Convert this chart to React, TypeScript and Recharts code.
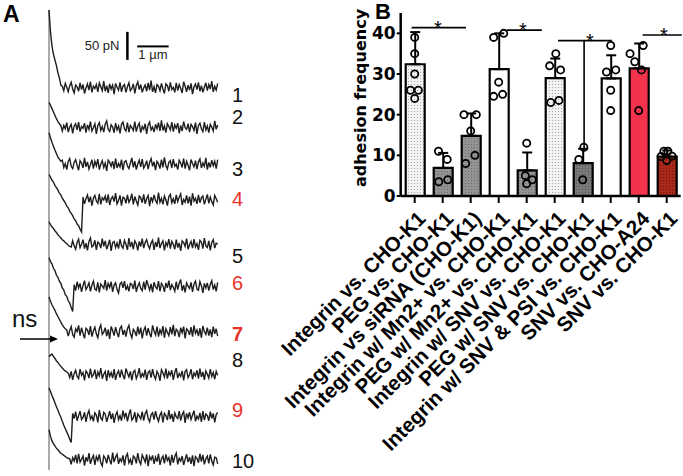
import React from 'react';
import {
  LineChart, Line, XAxis, YAxis, ReferenceLine, ReferenceDot,
  ComposedChart, Bar, Cell, ErrorBar, Scatter,
} from 'recharts';

// ---------- Panel A: retraction force traces ----------
// force in pN relative to each trace baseline, one sample every DX µm
const DX = 0.047;
const traceBaselines = [682, 611, 545, 482, 402, 327, 246, 170, 95, 18];
const trace1 = [139, 100, 75, 60, 50, 40, 27, 18, 5,
  3, -5, 8, 1, -7, 4, 10, -2, -9, 5, 2, -6, 9, -3, 6, -10, 0, 7, -4, 11, -8, 3, -1, 6, -7, 9, 2, -5, 12, -6,
  4, -9, 7, -2, 5, -11, 8, 1, -4, 10, -7, 3, 6, -8, 2, 9, -5, -1, 7, -10, 4, 11, -3, 6, -8, 0, 5, -6, 9, -4,
  13, -7, 2, -9, 6, 3, -5, 8, -2, -10, 7, 4, -6, 10, -3, 1, -8, 9, -5, 6, -1, -9, 11, 3, -7, 5, -4, 8, -11, 2,
  7, -3, 10, -6, 4, -8, 1, 9, -5, 6, -2, 12, -7, 3, -4, 8];
const trace2 = [45, 40, 34, 28, 22, 16, 11, 7, 4,
  -6, 4, -2, 9, -8, 1, 6, -10, 3, 7, -4, 10, -7, 2, -1, 8, -9, 5, -3, 11, -6, 0, 7, -11, 4, 9, -5, 2, -8, 6,
  12, -3, -7, 5, 1, -9, 8, -4, 3, -10, 6, 10, -2, -6, 9, -8, 4, 0, -5, 11, -7, 3, 8, -9, 2, -3, 7, -11, 5, 10,
  -4, 1, -8, 6, -2, 9, -6, 13, -5, 3, -9, 7, 2, -4, 10, -7, 5, -1, 8, -10, 4, -6, 11, 0, -3, 7, -8, 6, 2, -5,
  9, -11, 4, 8, -2, -7, 10, -4, 3, -9, 6, 1, -6, 12, -3, 5];
const trace3 = [57, 48, 40, 33, 26, 20, 14, 10, 6,
  8, -5, 2, -9, 6, 11, -3, -7, 4, 9, -1, -10, 7, 3, -6, 12, -4, 5, -8, 0, 9, -7, 6, -2, 10, -9, 1, 7, -5, 3,
  -11, 8, 4, -3, 6, -8, 11, -6, 2, -4, 9, -10, 5, 7, -2, -7, 3, 12, -5, 6, -9, 1, 8, -4, 10, -6, -1, 7, -8, 4,
  11, -3, 5, -10, 6, 2, -7, 9, -5, 13, -2, -8, 4, 7, -6, 10, -3, 1, -9, 8, 3, -5, 11, -7, 6, -1, -10, 9, 2, -4,
  7, -8, 5, 10, -6, 3, -3, 12, -9, 4, -5, 8, -2, 6, -7, 9];
const trace4 = [45, 41, 35, 32, 26, 22, 18, 12, 9, 3, -1, -5, -11, -14, -20, -24, -28, -34, -37, -43, -46, -52, -57,
  5, -7, 2, 9, -4, 6, -10, 3, 8, -2, -6, 11, -8, 4, 0, 7, -5, 10, -9, 2, 6, -3, 12, -7, -1, 8, -10, 5, 3, -6,
  9, -4, 1, 11, -8, 6, -2, -9, 7, 4, -5, 10, -7, 2, 8, -11, 5, -3, 9, -1, -6, 13, -4, 3, -8, 7, 0, -10, 6, 10,
  -5, 2, -7, 9, -3, 5, 11, -9, 1, -4, 8, -6, 6, -10, 12, -2, 3, -7, 9, -5, 4, 7, -8, 1, 10, -6, 5, -3, -9, 8,
  2, -4];
const trace5 = [41, 36, 32, 29, 25, 22, 18, 15, 12, 9, 7, 4, 2, -1, -3, -4,
  7, -2, -8, 4, 10, -5, 1, 9, -7, 3, -10, 6, 12, -4, -1, 8, -9, 5, 2, -6, 11, -3, 7, -8, 0, 9, -11, 4, 6, -5,
  3, -7, 10, -2, -6, 8, 1, -9, 12, -4, 5, -8, 7, 2, -10, 6, -3, 11, -6, 4, 9, -1, -7, 3, 8, -9, 5, -4, 13, -6,
  2, 7, -10, 4, -2, 10, -7, 6, 1, -8, 9, -5, 3, -11, 7, 4, -3, 11, -8, 0, 6, -6, 10, -4, 2, -9, 8, 5, -7, 12,
  -2, -5, 7, -10, 4, 9, -6, 3, 1];
const trace6 = [52, 45, 41, 33, 29, 21, 17, 10, 6, -2, -6, -14, -17, -25, -29, -37, -44,
  4, -7, 9, -2, 6, -9, 2, 11, -5, 0, 7, -8, 3, 10, -4, -6, 8, -10, 5, 1, -3, 12, -7, 6, -1, 9, -9, 3, 7, -5,
  -11, 5, 8, -2, 10, -6, 2, -8, 6, 4, -4, 11, -9, 1, 7, -3, -7, 9, -5, 12, 3, -6, 5, -10, 8, 0, -4, 10, -8, 6,
  2, -9, 7, -2, 11, -6, 4, -1, -8, 9, -5, 6, 13, -7, 3, -10, 7, 1, -3, 8, -9, 5, 10, -4, -6, 9, 2, -11, 6, -2,
  7, -7, 4, 11, -5, 3, -8, 8];
const trace7 = [63, 55, 49, 44, 39, 33, 28, 23, 18, 13, 9, 6, 4,
  -7, 3, 10, -4, -9, 6, 1, 12, -6, 8, -2, -11, 7, 4, -5, 11, -8, 2, 9, -3, -10, 6, 13, -4, 0, 8, -7, 5, -12, 10,
  3, -6, 9, -1, -9, 7, 11, -5, 4, -8, 6, 12, -3, -10, 5, 1, -7, 10, -4, 8, -11, 3, 9, -6, 7, -2, -9, 12, 2, -5,
  10, -8, 4, -3, 11, -10, 6, 0, -6, 9, -4, 13, -7, 5, 2, -9, 8, -1, 10, -11, 6, 3, -5, 9, -8, 12, -2, 4, -7, 7,
  -10, 11, 1, -4, 8, -6, 5, -9, 10, -3, 6, -7];
const trace8 = [32, 35, 37, 33, 29, 25, 22, 18, 15, 12, 9, 7, 5, 3,
  -5, 6, -9, 2, 8, -3, -7, 10, -1, 4, -10, 7, 3, -6, 11, -4, 0, 9, -8, 5, -2, 12, -7, 1, 6, -11, 8, -3, 4, -6,
  10, -9, 2, 7, -5, 9, -1, -8, 11, 3, -4, 6, -10, 5, 8, -7, 0, 12, -6, 2, -3, 9, -9, 4, 7, -5, 10, -2, -8, 6,
  1, -11, 9, 3, -4, 11, -7, 5, -1, 8, -9, 4, 12, -6, 2, -3, 7, -10, 6, 9, -5, 0, 10, -8, 3, -2, 8, -7, 11, -4,
  5, -9, 7, 1, -6, 10, -3, 4, -8, 6, -1];
const trace9 = [52, 45, 38, 32, 25, 18, 12, 5, -1, -8, -15, -21, -27, -33, -40, -46,
  6, -3, 9, -7, 2, 10, -5, -1, 8, -9, 4, 11, -4, 1, -8, 7, 3, -10, 12, -2, -6, 8, 5, -9, 0, 10, -4, 6, -11, 3,
  9, -5, 2, -7, 11, -1, 7, -8, 4, 13, -6, -2, 8, -10, 5, 1, -4, 9, -7, 6, 11, -3, -9, 4, 7, -5, 10, -1, -8, 3,
  8, -10, 6, 2, -6, 12, -4, 5, -9, 7, 0, -3, 10, -7, 4, 9, -11, 6, -2, 8, -5, 3, 11, -8, 1, -4, 7, -9, 10, -6,
  5, 2, -7, 9, -3, 6, -10, 4, 8];
const trace10 = [54, 42, 34, 29, 25, 21, 18, 15, 12, 10, 8, 6, 4, 3, 2,
  -8, 4, -2, 9, -6, 11, -4, 1, 7, -10, 5, -3, 12, -7, 2, 8, -9, 6, -1, 10, -5, -11, 7, 3, -6, 9, 0, -8, 13, -4,
  5, 10, -7, 2, -3, 8, -10, 6, 11, -5, 1, -9, 7, 4, -6, 12, -2, -8, 9, 3, -4, 10, -11, 6, 0, 8, -7, 5, -3, 11,
  -9, 2, 7, -6, 10, -1, 4, -10, 9, -5, 6, 12, -8, 3, -2, 7, -9, 1, 10, -4, 5, -7, 8, -11, 6, 3, -5, 11, -3, 9,
  -8, 2, 7, -6, 10, -2, -9, 5, 4, -7];
const traces = [trace1, trace2, trace3, trace4, trace5, trace6, trace7, trace8, trace9, trace10];
const traceLabels = ['1', '2', '3', '4', '5', '6', '7', '8', '9', '10'];
const highlighted = [false, false, false, true, false, true, true, false, true, false];

// ---------- Panel B: adhesion frequency ----------
const conditions = [
  'Integrin vs. CHO-K1',
  'PEG vs. CHO-K1',
  'Integrin vs siRNA (CHO-K1)',
  'Integrin w/ Mn2+ vs. CHO-K1',
  'PEG w/ Mn2+ vs. CHO-K1',
  'Integrin w/ SNV vs. CHO-K1',
  'PEG w/ SNV vs. CHO-K1',
  'Integrin w/ SNV & PSI vs. CHO-K1',
  'SNV vs. CHO-A24',
  'SNV vs. CHO-K1',
];
const adhesionMean = [32.4, 6.9, 14.8, 31.2, 6.3, 29.0, 8.1, 28.9, 31.4, 9.7];
const adhesionSD = [7.9, 3.7, 5.5, 8.8, 4.4, 4.8, 3.5, 5.7, 6.1, 1.5];
const replicates = [
  [39, 35, 30, 26, 26, 24],
  [11, 9, 3.5, 4],
  [20, 20, 16, 10, 8],
  [39, 40, 28, 24.5, 25],
  [13, 5, 4, 3],
  [35, 32, 31, 23, 23.5],
  [12, 9, 4],
  [37, 30.5, 31, 26, 21],
  [35, 33, 31, 37, 21],
  [11, 11, 9.7, 9.8, 8.7],
];
// horizontal scatter of the replicate dots, in category units
const replicateJitter = [
  [0, 0, 0, -0.15, 0.13, 0],
  [-0.15, 0.16, -0.14, 0.18],
  [-0.24, 0.2, 0, 0.15, -0.18],
  [-0.18, 0.18, 0, -0.18, 0.14],
  [0, -0.05, 0.2, 0],
  [0.04, -0.18, 0.21, -0.14, 0.15],
  [0.04, -0.14, 0],
  [0, -0.15, 0.18, 0, 0],
  [-0.31, -0.14, 0.1, 0.16, 0],
  [-0.1, 0.04, -0.2, 0.19, 0],
];
const barFills = [
  'url(#stippleLight)', 'url(#stippleGray)', 'url(#stippleGray)', '#ffffff', 'url(#stippleGray)',
  'url(#stippleLight)', 'url(#stippleDark)', '#ffffff', '#f2334b', 'url(#stippleRed)',
];
// significance brackets: [from, to] in category units, height in %
const bracketSpans = [[0.89, 2.83], [4.29, 5.54], [6.12, 8.04], [9.14, 10.54]];
const bracketLevels = [41.4, 40.8, 38.2, 39.6];
const starPositions = [1.83, 4.86, 7.26, 9.9];

const WIDE = 'DejaVu Sans, Verdana, sans-serif';
const ARIAL = 'Liberation Sans, Arial, sans-serif';

const ConditionTick = ({ x, y, payload }: any) => {
  const ax = x + 12;
  const ay = y + 15;
  return (
    <text x={ax} y={ay} transform={`rotate(-45, ${ax}, ${ay})`} textAnchor="end"
      fontFamily={ARIAL} fontWeight="bold" fontSize={20.5} fill="#000">
      {payload.value}
    </text>
  );
};

const Ring = ({ cx, cy }: any) => (
  <circle cx={cx} cy={cy} r={3.6} fill="none" stroke="#000" strokeWidth={1.8} />
);

const Star = ({ viewBox }: any) => (
  <text x={viewBox.x} y={viewBox.y + 7} textAnchor="middle" fontFamily={ARIAL} fontSize={20} fill="#000">*</text>
);

const TracePanel = () => (
  <LineChart width={240} height={476} margin={{ top: 10, right: 21, left: 49, bottom: 6 }}>
    <XAxis type="number" dataKey="x" domain={[0, 5.4]} hide />
    <YAxis type="number" domain={[0, 821]} hide width={0} />
    <ReferenceLine x={0} stroke="#555" strokeWidth={1} />
    {traces.map((t, i) => (
      <Line key={i} data={t.map((v, j) => ({ x: j * DX, f: traceBaselines[i] + v }))}
        dataKey="f" stroke="#1e1e1e" strokeWidth={1.4} dot={false} isAnimationActive={false} />
    ))}
    <ReferenceLine segment={[{ x: 2.49, y: 732 }, { x: 2.49, y: 782 }]} stroke="#000" strokeWidth={2.5}
      label={{ value: '50 pN', position: 'left', offset: 8, fontSize: 13, fontFamily: ARIAL, fill: '#222' }} />
    <ReferenceLine segment={[{ x: 2.8, y: 756 }, { x: 3.8, y: 756 }]} stroke="#000" strokeWidth={2}
      label={{ value: '1 µm', position: 'bottom', offset: 3, fontSize: 13, fontFamily: ARIAL, fill: '#222' }} />
  </LineChart>
);

const AdhesionPanel = () => {
  const rows = conditions.map((name, i) => ({ name, mean: adhesionMean[i], err: [0, adhesionSD[i]] }));
  const dots = replicates.flatMap((vals, i) => vals.map((v, j) => ({ x: i + 1 + replicateJitter[i][j], y: v })));
  return (
    <ComposedChart width={443} height={476} data={rows} margin={{ top: 13, right: 2.3, left: 120, bottom: 0 }}>
      <defs>
        <pattern id="stippleLight" width="3" height="3" patternUnits="userSpaceOnUse">
          <rect width="3" height="3" fill="#f3f3f3" />
          <rect width="1" height="1" fill="#a8a8a8" />
        </pattern>
        <pattern id="stippleGray" width="3" height="3" patternUnits="userSpaceOnUse">
          <rect width="3" height="3" fill="#939393" />
          <rect width="1" height="1" fill="#6e6e6e" />
        </pattern>
        <pattern id="stippleDark" width="3" height="3" patternUnits="userSpaceOnUse">
          <rect width="3" height="3" fill="#7a7a7a" />
          <rect width="1" height="1" fill="#555" />
        </pattern>
        <pattern id="stippleRed" width="3" height="3" patternUnits="userSpaceOnUse">
          <rect width="3" height="3" fill="#a8291c" />
          <rect width="1" height="1" fill="#6e150c" />
        </pattern>
      </defs>
      <XAxis xAxisId="cat" dataKey="name" type="category" interval={0} height={280}
        tick={<ConditionTick />} tickSize={7}
        axisLine={{ stroke: '#000', strokeWidth: 2.5 }} tickLine={{ stroke: '#000', strokeWidth: 2 }} />
      <XAxis xAxisId="num" type="number" dataKey="x" domain={[0.5, 10.5]} hide />
      <YAxis domain={[0, 45]} ticks={[0, 10, 20, 30, 40]} width={40.7} tickSize={4} tickMargin={1}
        axisLine={{ stroke: '#000', strokeWidth: 2.5 }} tickLine={{ stroke: '#000', strokeWidth: 2 }}
        tick={{ fill: '#000', fontSize: 17, fontWeight: 'bold', fontFamily: WIDE }} />
      <Bar xAxisId="cat" dataKey="mean" barSize={19} stroke="#000" strokeWidth={2.2} isAnimationActive={false}>
        {rows.map((r, i) => <Cell key={r.name} fill={barFills[i]} />)}
        <ErrorBar dataKey="err" width={5} stroke="#000" strokeWidth={2} direction="y" />
      </Bar>
      <Scatter xAxisId="num" data={dots} dataKey="y" shape={<Ring />} isAnimationActive={false} />
      {bracketSpans.map(([a, b], i) => (
        <ReferenceLine key={`br${i}`} xAxisId="num" ifOverflow="visible"
          segment={[{ x: a, y: bracketLevels[i] }, { x: b, y: bracketLevels[i] }]}
          stroke="#000" strokeWidth={1.6} />
      ))}
      <ReferenceLine xAxisId="num" ifOverflow="visible"
        segment={[{ x: 7.05, y: bracketLevels[2] }, { x: 7.05, y: adhesionMean[6] + adhesionSD[6] }]}
        stroke="#000" strokeWidth={1.6} />
      {starPositions.map((s, i) => (
        <ReferenceDot key={`st${i}`} xAxisId="num" ifOverflow="visible" x={s} y={bracketLevels[i]} r={0}
          stroke="none" label={<Star />} />
      ))}
    </ComposedChart>
  );
};

export default function App() {
  const labelY = [102, 124, 176, 205.5, 263, 290, 341, 367, 417, 468];
  return (
    <div style={{ position: 'absolute', left: 0, top: 0, width: 683, height: 476, background: '#fff' }}>
      <div style={{ position: 'absolute', left: 0, top: 0 }}><TracePanel /></div>
      <div style={{ position: 'absolute', left: 240, top: 0 }}><AdhesionPanel /></div>
      <svg width={683} height={476} style={{ position: 'absolute', left: 0, top: 0, pointerEvents: 'none' }}>
        <text x={3} y={22} fontFamily={ARIAL} fontWeight="bold" fontSize={23}>A</text>
        <text x={375} y={19} fontFamily={ARIAL} fontWeight="bold" fontSize={22}>B</text>
        {traceLabels.map((l, i) => (
          <text key={l} x={232} y={labelY[i]} fontFamily={ARIAL} fontSize={20}
            fontWeight={l === '7' ? 'bold' : 'normal'} fill={highlighted[i] ? '#e8332a' : '#111'}>{l}</text>
        ))}
        <text x={12} y={327} fontFamily={ARIAL} fontSize={24} fill="#111">ns</text>
        <line x1={20} y1={339} x2={51} y2={339} stroke="#000" strokeWidth={1.5} />
        <polygon points="58,339 50,335.5 50,342.5" fill="#000" />
        <text transform="translate(366, 98) rotate(-90)" textAnchor="middle" fontFamily={WIDE}
          fontWeight="bold" fontSize={16} fill="#000">adhesion frequency</text>
      </svg>
    </div>
  );
}
